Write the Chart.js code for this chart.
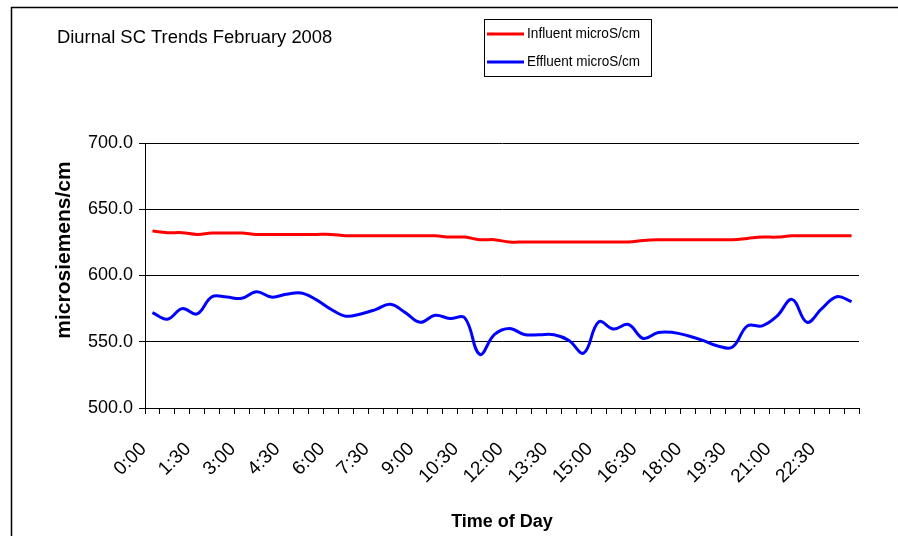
<!DOCTYPE html>
<html>
<head>
<meta charset="utf-8">
<script src="https://cdn.jsdelivr.net/npm/chart.js@4/dist/chart.umd.min.js"></script>
<style>
  html, body { margin: 0; padding: 0; background: #fff; }
  #wrap { width: 898px; height: 536px; }
</style>
</head>
<body>
<div id="wrap"><canvas id="sc"></canvas></div>
<script>
// half hour readings, 0:00 .. 23:30
const timeLabels = ["0:00","0:30","1:00","1:30","2:00","2:30","3:00","3:30","4:00","4:30","5:00","5:30",
  "6:00","6:30","7:00","7:30","8:00","8:30","9:00","9:30","10:00","10:30","11:00","11:30",
  "12:00","12:30","13:00","13:30","14:00","14:30","15:00","15:30","16:00","16:30","17:00","17:30",
  "18:00","18:30","19:00","19:30","20:00","20:30","21:00","21:30","22:00","22:30","23:00","23:30"];
const influent = [633.5,632.3,632.3,631,632,632,632,631,631,631,631,631,
  631,630,630,630,630,630,630,630,629,629,627,627,
  625.3,625.3,625.3,625.3,625.3,625.3,625.3,625.3,625.3,626.5,627,627,
  627,627,627,627,628,629,629,630,630,630,630,630];
const effluent = [572,567,575,571,584,583.7,582.8,587.8,583.7,585.8,586.8,581.8,
  574.5,569.3,571,574.3,578.3,572,564.7,570,567.5,568,540.5,555.5,
  560,555.5,555.3,555.3,551,541.5,565,559.6,563,552.5,557,557,
  554.5,551,546.8,546,562,562,569.5,582,564.7,575,584,580.3];
const seriesNames = ["Influent microS/cm","Effluent microS/cm"];
const seriesColors = ["#ff0000","#0000ff"];
const yTicks = [500,550,600,650,700];

const chartTitle = "Diurnal SC Trends February 2008";
const yTitle = "microsiemens/cm";

// frame, title, y title and the boxed legend like the spreadsheet one
const decor = {
  id: "decor",
  afterDraw(chart) {
    const ctx = chart.ctx;
    ctx.save();
    ctx.strokeStyle = "#000";
    ctx.lineWidth = 1.5;
    ctx.beginPath();
    ctx.moveTo(11.5, 536);
    ctx.lineTo(11.5, 7.5);
    ctx.lineTo(898, 7.5);
    ctx.stroke();

    ctx.fillStyle = "#000";
    ctx.font = "18.4px 'Liberation Sans', Arial, sans-serif";
    ctx.textBaseline = "middle";
    ctx.textAlign = "left";
    ctx.fillText(chartTitle, 57, 38);

    // y axis title sits a bit above the plot middle
    ctx.save();
    ctx.translate(64, 250);
    ctx.rotate(-Math.PI / 2);
    ctx.textAlign = "center";
    ctx.font = "bold 21px 'Liberation Sans', Arial, sans-serif";
    ctx.fillText(yTitle, 0, 0);
    ctx.restore();

    ctx.lineWidth = 1;
    ctx.strokeRect(484.5, 19.5, 167, 57);
    ctx.font = "14px 'Liberation Sans', Arial, sans-serif";
    chart.data.datasets.forEach((ds, i) => {
      const y = 34 + i * 28;
      ctx.strokeStyle = ds.borderColor;
      ctx.lineWidth = 3;
      ctx.beginPath();
      ctx.moveTo(487, y);
      ctx.lineTo(524, y);
      ctx.stroke();
      // narrow lettering: squeeze to the width used in the reference
      const w = ctx.measureText(ds.label).width;
      ctx.save();
      ctx.translate(527, y);
      ctx.scale(113 / w, 1);
      ctx.fillStyle = "#000";
      ctx.fillText(ds.label, 0, 0);
      ctx.restore();
    });
    ctx.restore();
  }
};

new Chart(document.getElementById("sc"), {
  type: "line",
  data: {
    labels: timeLabels,
    datasets: [
      { label: seriesNames[0], data: influent, borderColor: seriesColors[0], borderWidth: 3, pointRadius: 0, tension: 0.4, fill: false },
      { label: seriesNames[1], data: effluent, borderColor: seriesColors[1], borderWidth: 3, pointRadius: 0, tension: 0.4, fill: false }
    ]
  },
  options: {
    responsive: true,
    maintainAspectRatio: false,
    animation: false,
    layout: { padding: { left: 0, top: 143, right: 39, bottom: 0 } },
    plugins: {
      legend: { display: false },
      title: { display: false },
      tooltip: { enabled: false }
    },
    scales: {
      x: {
        type: "category",
        offset: true,
        afterFit(scale) { scale.height = 128; },
        grid: { offset: true, drawOnChartArea: false, drawTicks: true, tickLength: 6, color: "#000" },
        border: { color: "#000", width: 1 },
        ticks: {
          autoSkip: false,
          maxRotation: 45,
          minRotation: 45,
          color: "#000",
          padding: 24,
          labelOffset: -9,
          font: { family: "'Liberation Sans', Arial, sans-serif", size: 19 },
          callback(v, i) { return i % 3 === 0 ? timeLabels[i] : ""; }
        },
        title: {
          display: true,
          text: "Time of Day",
          color: "#000",
          padding: { top: 0, bottom: 3 },
          font: { family: "'Liberation Sans', Arial, sans-serif", size: 18, weight: "bold" }
        }
      },
      y: {
        min: yTicks[0],
        max: yTicks[yTicks.length - 1],
        afterFit(scale) { scale.width = 145; },
        afterBuildTicks(scale) { scale.ticks = yTicks.map(v => ({ value: v })); },
        grid: { color: "#000", lineWidth: 1, drawTicks: true, tickLength: 6 },
        border: { color: "#000", width: 1 },
        ticks: {
          color: "#000",
          padding: 6,
          font: { family: "'Liberation Sans', Arial, sans-serif", size: 18 },
          callback(v) { return v.toFixed(1); }
        },
        title: { display: false }
      }
    }
  },
  plugins: [decor]
});
</script>
</body>
</html>
